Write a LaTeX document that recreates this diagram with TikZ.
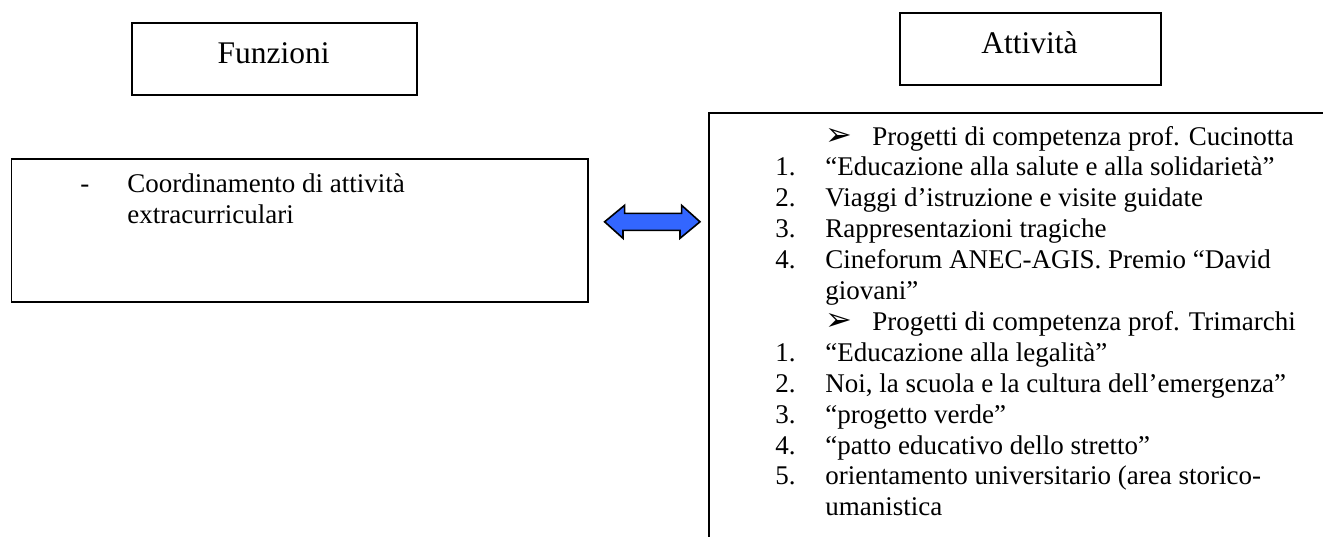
\documentclass[tikz,border=0pt]{standalone}
\usepackage{fontspec}
\setmainfont{Liberation Serif}
\newfontfamily\dingfont{DejaVu Sans}
\definecolor{ArrowBlue}{RGB}{51,102,255}
\tikzset{
	box/.style={draw, line width=0.8pt, inner sep=0pt},
	title/.style={anchor=base, inner sep=0pt, font=\fontsize{15.75}{18}\selectfont},
	txt/.style={anchor=base west, inner sep=0pt, font=\fontsize{13.5}{15.5}\selectfont},
	bul/.style={anchor=base west, inner sep=0pt, font=\dingfont\fontsize{16}{16}\selectfont},
	dblarrow/.style={draw=black, fill=ArrowBlue, line width=0.8pt, line join=miter},
}
\def\px{0.5pt}
\begin{document}
\begin{tikzpicture}[x=0.5pt,y=-0.5pt]
\useasboundingbox (0,0) rectangle (1323,536);
\clip (0,0) rectangle (1323,536);
%% Titles
\node[box, anchor=north west, minimum width=285*\px, minimum height=72*\px] (fbox) at (131,22) {};
\node[title] (ftitle) at (273.5,63) {Funzioni};
\node[box, anchor=north west, minimum width=261*\px, minimum height=72*\px] (abox) at (899,12) {};
\node[title] (atitle) at (1029.5,53) {Attività};
%% Left box
\node[box, anchor=north west, minimum width=576.5*\px, minimum height=143*\px] (lbox) at (10.5,158) {};
\node[txt] (ldash) at (80,192) {-};
\node[txt] (l1) at (127,192) {Coordinamento di attività};
\node[txt] (l2) at (127,223) {extracurriculari};
%% Right box (runs off the page)
\node[box, line width=1pt, anchor=north west, minimum width=700*\px, minimum height=500*\px] (rbox) at (707.5,112) {};
%% Double arrow between the boxes
\coordinate[xshift=16*\px, yshift=8.5*\px] (arrL) at (lbox.east);
\coordinate[xshift=-7.5*\px] (arrR) at (arrL -| rbox.west);
\draw[dblarrow] (arrL) -- ++(20,-16.5) -- ++(0,8) -- ++(57,0) -- ++(0,-8)
	-- (arrR) -- ++(-20,16.5) -- ++(0,-8) -- ++(-57,0) -- ++(0,8) -- cycle;
%% List
\def\a{775}
\def\b{825}
\def\c{145}
\def\d{30.9}
\node[bul] (b1) at (\b,\c) {➢};
\node[txt] (p1) at (\b+47,\c) {Progetti di competenza prof. Cucinotta};
\foreach \n/\t in {1/{“Educazione alla salute e alla solidarietà”},
	2/{Viaggi d’istruzione e visite guidate},
	3/{Rappresentazioni tragiche},
	4/{Cineforum ANEC-AGIS. Premio “David}}
{
	\node[txt] (na\n) at (\a,\c+\d*\n) {\n.};
	\node[txt] (ta\n) at (\b,\c+\d*\n) {\t};
}
\node[txt] (ta4b) at (\b,\c+\d*5) {giovani”};
\node[bul] (b2) at (\b,\c+\d*6) {➢};
\node[txt] (p2) at (\b+47,\c+\d*6) {Progetti di competenza prof. Trimarchi};
\foreach \n/\t in {1/{“Educazione alla legalità”},
	2/{Noi, la scuola e la cultura dell’emergenza”},
	3/{“progetto verde”},
	4/{“patto educativo dello stretto”},
	5/{orientamento universitario (area storico-}}
{
	\node[txt] (nb\n) at (\a,\c+\d*6+\d*\n) {\n.};
	\node[txt] (tb\n) at (\b,\c+\d*6+\d*\n) {\t};
}
\node[txt] (tb5b) at (\b,\c+\d*12) {umanistica};
\end{tikzpicture}
\end{document}
